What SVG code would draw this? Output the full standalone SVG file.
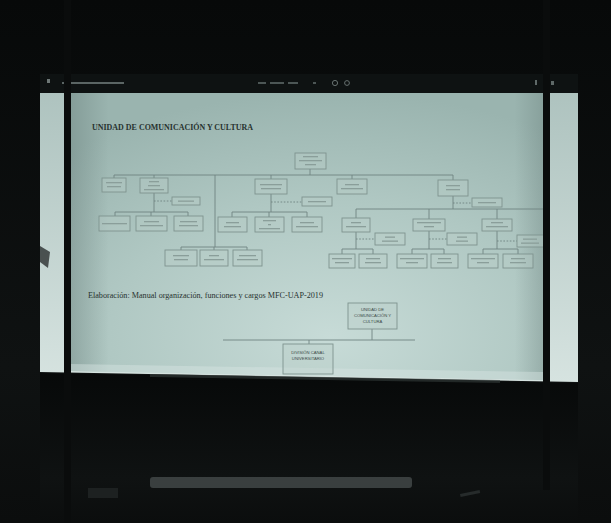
<svg xmlns="http://www.w3.org/2000/svg" width="611" height="523" viewBox="0 0 611 523">
  <defs>
    <linearGradient id="room" x1="0" y1="0" x2="0" y2="1">
      <stop offset="0" stop-color="#070909"/>
      <stop offset="0.7" stop-color="#0f1212"/>
      <stop offset="1" stop-color="#0b0d0d"/>
    </linearGradient>
    <radialGradient id="slide" cx="0.55" cy="0.85" r="0.85">
      <stop offset="0" stop-color="#c7dbd7"/>
      <stop offset="0.55" stop-color="#b0c8c3"/>
      <stop offset="1" stop-color="#9ab4af"/>
    </radialGradient>
    <linearGradient id="strip" x1="0" y1="0" x2="0" y2="1">
      <stop offset="0" stop-color="#aec3bf"/>
      <stop offset="1" stop-color="#d6e3e0"/>
    </linearGradient>
    <linearGradient id="edgeShade" x1="0" y1="0" x2="1" y2="0">
      <stop offset="0" stop-color="#5e7370" stop-opacity="0.35"/>
      <stop offset="0.08" stop-color="#5e7370" stop-opacity="0"/>
      <stop offset="0.94" stop-color="#5e7370" stop-opacity="0"/>
      <stop offset="1" stop-color="#5e7370" stop-opacity="0.3"/>
    </linearGradient>
  </defs>
  <style>
    .box { fill: #b9cdc9; fill-opacity: 0.35; stroke: #7e938f; stroke-width: 0.9; }
    .bar { fill: #8a9e9a; }
    .ln { fill: none; stroke: #6f8581; stroke-width: 0.9; }
    .dot { stroke-dasharray: 1.6 1.6; }
    .serif { font-family: "Liberation Serif", "DejaVu Serif", serif; fill: #27322f; }
    .small { font-family: "Liberation Sans", Arial, sans-serif; font-size: 4.2px; fill: #3c4a48; text-anchor: middle; }
    .pole { fill: #0a0c0c; }
  </style>

  <!-- room -->
  <rect x="0" y="0" width="611" height="523" fill="url(#room)"/>

  <!-- projection screen -->
  <g id="screen">
    <polygon points="40,92 578,93 578,382 40,372" fill="url(#strip)"/>
    <polygon points="71,92 543,93 543,380 71,371" fill="url(#slide)"/>
    <polygon points="71,92 543,93 543,380 71,371" fill="url(#edgeShade)"/>
    <polygon points="71,364 543,372 543,380 71,371" fill="#d8e5e2" opacity="0.45"/>
    <!-- viewer toolbar -->
    <rect x="40" y="74" width="538" height="19" fill="#0e1212"/>
    <rect x="47" y="79" width="3" height="4" fill="#6d7776"/>
    <rect x="62" y="82" width="62" height="2" fill="#5b6564"/>
    <rect x="258" y="82" width="8" height="2" fill="#4c5655"/>
    <rect x="270" y="82" width="14" height="2" fill="#4c5655"/>
    <rect x="288" y="82" width="10" height="2" fill="#4c5655"/>
    <rect x="313" y="82" width="3" height="2" fill="#4c5655"/>
    <circle cx="335" cy="83" r="2.6" fill="none" stroke="#66706f" stroke-width="1"/>
    <circle cx="347" cy="83" r="2.4" fill="none" stroke="#66706f" stroke-width="1"/>
    <rect x="535" y="80" width="2" height="5" fill="#5f6968"/>
    <rect x="551" y="81" width="3" height="4" fill="#5f6968"/>
  </g>

  <!-- slide title and source -->
  <text class="serif" x="92" y="130" font-size="8.4" font-weight="bold" textLength="161" lengthAdjust="spacingAndGlyphs">UNIDAD DE COMUNICACIÓN Y CULTURA</text>
  <text class="serif" x="88" y="298" font-size="8" textLength="235" lengthAdjust="spacingAndGlyphs">Elaboración: Manual organización, funciones y cargos MFC-UAP-2019</text>

  <!-- connectors -->
  <g id="connectors">
    <path class="ln" d="M310,169 V175 M114,175 H453 M114,175 V178 M154,175 V178 M271,175 V179 M352,175 V179 M453,175 V180"/>
    <path class="ln" d="M154,193 V212 M115,212 H188 M115,212 V216 M151,212 V216 M188,212 V216"/>
    <path class="ln dot" d="M154,201 H172"/>
    <path class="ln" d="M215,175 V247 M181,247 H247 M181,247 V250 M214,247 V250 M247,247 V250"/>
    <path class="ln" d="M271,194 V212 M232,212 H307 M232,212 V217 M269,212 V217 M307,212 V217"/>
    <path class="ln dot" d="M271,202 H302"/>
    <path class="ln" d="M453,196 V209 M356,209 H548 M356,209 V218 M429,209 V219 M497,209 V219"/>
    <path class="ln dot" d="M453,203 H472"/>
    <path class="ln" d="M356,232 V249 M342,249 H373 M342,249 V254 M373,249 V254"/>
    <path class="ln dot" d="M356,239 H375"/>
    <path class="ln" d="M429,231 V249 M412,249 H444 M412,249 V254 M444,249 V254"/>
    <path class="ln dot" d="M429,239 H447"/>
    <path class="ln" d="M497,231 V249 M483,249 H518 M483,249 V254 M518,249 V254"/>
    <path class="ln dot" d="M497,241 H517"/>
    <path class="ln" d="M372,329 V340 M223,340 H415 M309,340 V344"/>
  </g>

  <!-- org chart units -->
  <g id="n-top"><rect class="box" x="295" y="153" width="31" height="16"/><rect class="bar" x="303" y="156" width="15" height="1.3"/><rect class="bar" x="299" y="160" width="23" height="1.3"/><rect class="bar" x="305" y="164" width="11" height="1.3"/></g>
  <g id="n-a"><rect class="box" x="102" y="178" width="24" height="14"/><rect class="bar" x="106" y="182" width="16" height="1.3"/><rect class="bar" x="107" y="186" width="14" height="1.3"/></g>
  <g id="n-b"><rect class="box" x="140" y="178" width="28" height="15"/><rect class="bar" x="149" y="181" width="10" height="1.3"/><rect class="bar" x="148" y="185" width="12" height="1.3"/><rect class="bar" x="144" y="189" width="20" height="1.3"/></g>
  <g id="n-b-staff"><rect class="box" x="172" y="197" width="28" height="8"/><rect class="bar" x="178" y="200.5" width="16" height="1.3"/></g>
  <g id="n-b1"><rect class="box" x="99" y="216" width="31" height="15"/><rect class="bar" x="102" y="223" width="25" height="1.3"/></g>
  <g id="n-b2"><rect class="box" x="136" y="216" width="31" height="15"/><rect class="bar" x="144" y="221" width="15" height="1.3"/><rect class="bar" x="140" y="225" width="23" height="1.3"/></g>
  <g id="n-b3"><rect class="box" x="174" y="216" width="29" height="15"/><rect class="bar" x="180" y="221" width="17" height="1.3"/><rect class="bar" x="179" y="225" width="19" height="1.3"/></g>
  <g id="n-m1"><rect class="box" x="165" y="250" width="32" height="16"/><rect class="bar" x="173" y="255" width="16" height="1.3"/><rect class="bar" x="174" y="259" width="14" height="1.3"/></g>
  <g id="n-m2"><rect class="box" x="200" y="250" width="28" height="16"/><rect class="bar" x="209" y="255" width="10" height="1.3"/><rect class="bar" x="204" y="259" width="20" height="1.3"/></g>
  <g id="n-m3"><rect class="box" x="233" y="250" width="29" height="16"/><rect class="bar" x="239" y="255" width="17" height="1.3"/><rect class="bar" x="237" y="259" width="21" height="1.3"/></g>
  <g id="n-c"><rect class="box" x="255" y="179" width="32" height="15"/><rect class="bar" x="260" y="184" width="22" height="1.3"/><rect class="bar" x="261" y="188" width="20" height="1.3"/></g>
  <g id="n-c-staff"><rect class="box" x="302" y="197" width="30" height="9"/><rect class="bar" x="308" y="201" width="18" height="1.3"/></g>
  <g id="n-c1"><rect class="box" x="218" y="217" width="29" height="15"/><rect class="bar" x="226" y="222" width="13" height="1.3"/><rect class="bar" x="224" y="226" width="17" height="1.3"/></g>
  <g id="n-c2"><rect class="box" x="255" y="217" width="29" height="15"/><rect class="bar" x="263" y="220" width="13" height="1.3"/><rect class="bar" x="268" y="224" width="3" height="1.3"/><rect class="bar" x="259" y="228" width="21" height="1.3"/></g>
  <g id="n-c3"><rect class="box" x="292" y="217" width="30" height="15"/><rect class="bar" x="300" y="222" width="14" height="1.3"/><rect class="bar" x="296" y="226" width="22" height="1.3"/></g>
  <g id="n-d"><rect class="box" x="337" y="179" width="30" height="15"/><rect class="bar" x="345" y="184" width="14" height="1.3"/><rect class="bar" x="341" y="188" width="22" height="1.3"/></g>
  <g id="n-e"><rect class="box" x="438" y="180" width="30" height="16"/><rect class="bar" x="446" y="185" width="14" height="1.3"/><rect class="bar" x="446" y="189" width="14" height="1.3"/></g>
  <g id="n-e-staff"><rect class="box" x="472" y="198" width="30" height="9"/><rect class="bar" x="478" y="202" width="18" height="1.3"/></g>
  <g id="n-f"><rect class="box" x="342" y="218" width="28" height="14"/><rect class="bar" x="351" y="222" width="10" height="1.3"/><rect class="bar" x="346" y="226" width="20" height="1.3"/></g>
  <g id="n-f-staff"><rect class="box" x="375" y="233" width="30" height="12"/><rect class="bar" x="385" y="236.5" width="10" height="1.3"/><rect class="bar" x="382" y="240.5" width="16" height="1.3"/></g>
  <g id="n-g"><rect class="box" x="413" y="219" width="32" height="12"/><rect class="bar" x="417" y="222" width="24" height="1.3"/><rect class="bar" x="424" y="226" width="10" height="1.3"/></g>
  <g id="n-g-staff"><rect class="box" x="447" y="233" width="30" height="12"/><rect class="bar" x="457" y="236.5" width="10" height="1.3"/><rect class="bar" x="456" y="240.5" width="12" height="1.3"/></g>
  <g id="n-h"><rect class="box" x="482" y="219" width="30" height="12"/><rect class="bar" x="491" y="222" width="12" height="1.3"/><rect class="bar" x="486" y="226" width="22" height="1.3"/></g>
  <g id="n-h-staff"><rect class="box" x="517" y="235" width="28" height="12"/><rect class="bar" x="523" y="238.5" width="14" height="1.3"/><rect class="bar" x="521" y="242.5" width="18" height="1.3"/></g>
  <g id="n-f1"><rect class="box" x="329" y="254" width="26" height="14"/><rect class="bar" x="332" y="258" width="20" height="1.3"/><rect class="bar" x="335" y="262" width="14" height="1.3"/></g>
  <g id="n-f2"><rect class="box" x="359" y="254" width="28" height="14"/><rect class="bar" x="366" y="258" width="14" height="1.3"/><rect class="bar" x="365" y="262" width="16" height="1.3"/></g>
  <g id="n-g1"><rect class="box" x="397" y="254" width="30" height="14"/><rect class="bar" x="400" y="258" width="24" height="1.3"/><rect class="bar" x="406" y="262" width="12" height="1.3"/></g>
  <g id="n-g2"><rect class="box" x="431" y="254" width="27" height="14"/><rect class="bar" x="438" y="258" width="13" height="1.3"/><rect class="bar" x="437" y="262" width="15" height="1.3"/></g>
  <g id="n-h1"><rect class="box" x="468" y="254" width="30" height="14"/><rect class="bar" x="471" y="258" width="24" height="1.3"/><rect class="bar" x="477" y="262" width="12" height="1.3"/></g>
  <g id="n-h2"><rect class="box" x="503" y="254" width="30" height="14"/><rect class="bar" x="511" y="258" width="14" height="1.3"/><rect class="bar" x="510" y="262" width="16" height="1.3"/></g>

  <!-- lower detail chart -->
  <g id="n-unidad">
    <rect class="box" x="348" y="303" width="49" height="26"/>
    <text class="small" x="372.5" y="311">UNIDAD DE</text>
    <text class="small" x="372.5" y="317">COMUNICACIÓN Y</text>
    <text class="small" x="372.5" y="323">CULTURA</text>
  </g>
  <g id="n-canal">
    <rect class="box" x="283" y="344" width="50" height="30"/>
    <text class="small" x="308" y="354">DIVISIÓN CANAL</text>
    <text class="small" x="308" y="360">UNIVERSITARIO</text>
  </g>

  <!-- room below the screen -->
  <g id="room-below">
    <polygon points="40,373 578,383 578,523 40,523" fill="url(#room)"/>
    <polygon points="150,374 500,380 500,383 150,377" fill="#333c3b" opacity="0.6"/>
    <rect x="150" y="477" width="262" height="11" rx="3" fill="#454b4b" opacity="0.8"/>
    <rect x="88" y="488" width="30" height="10" fill="#222626" opacity="0.8"/>
    <rect x="460" y="492" width="20" height="3" fill="#262b2b" transform="rotate(-12 470 493)"/>
  </g>

  <!-- screen stand poles -->
  <rect class="pole" x="64" y="0" width="7" height="523"/>
  <rect class="pole" x="543" y="0" width="7" height="490"/>
  <polygon points="40,246 50,252 48,268 40,262" fill="#2a3030" opacity="0.8"/>
</svg>
